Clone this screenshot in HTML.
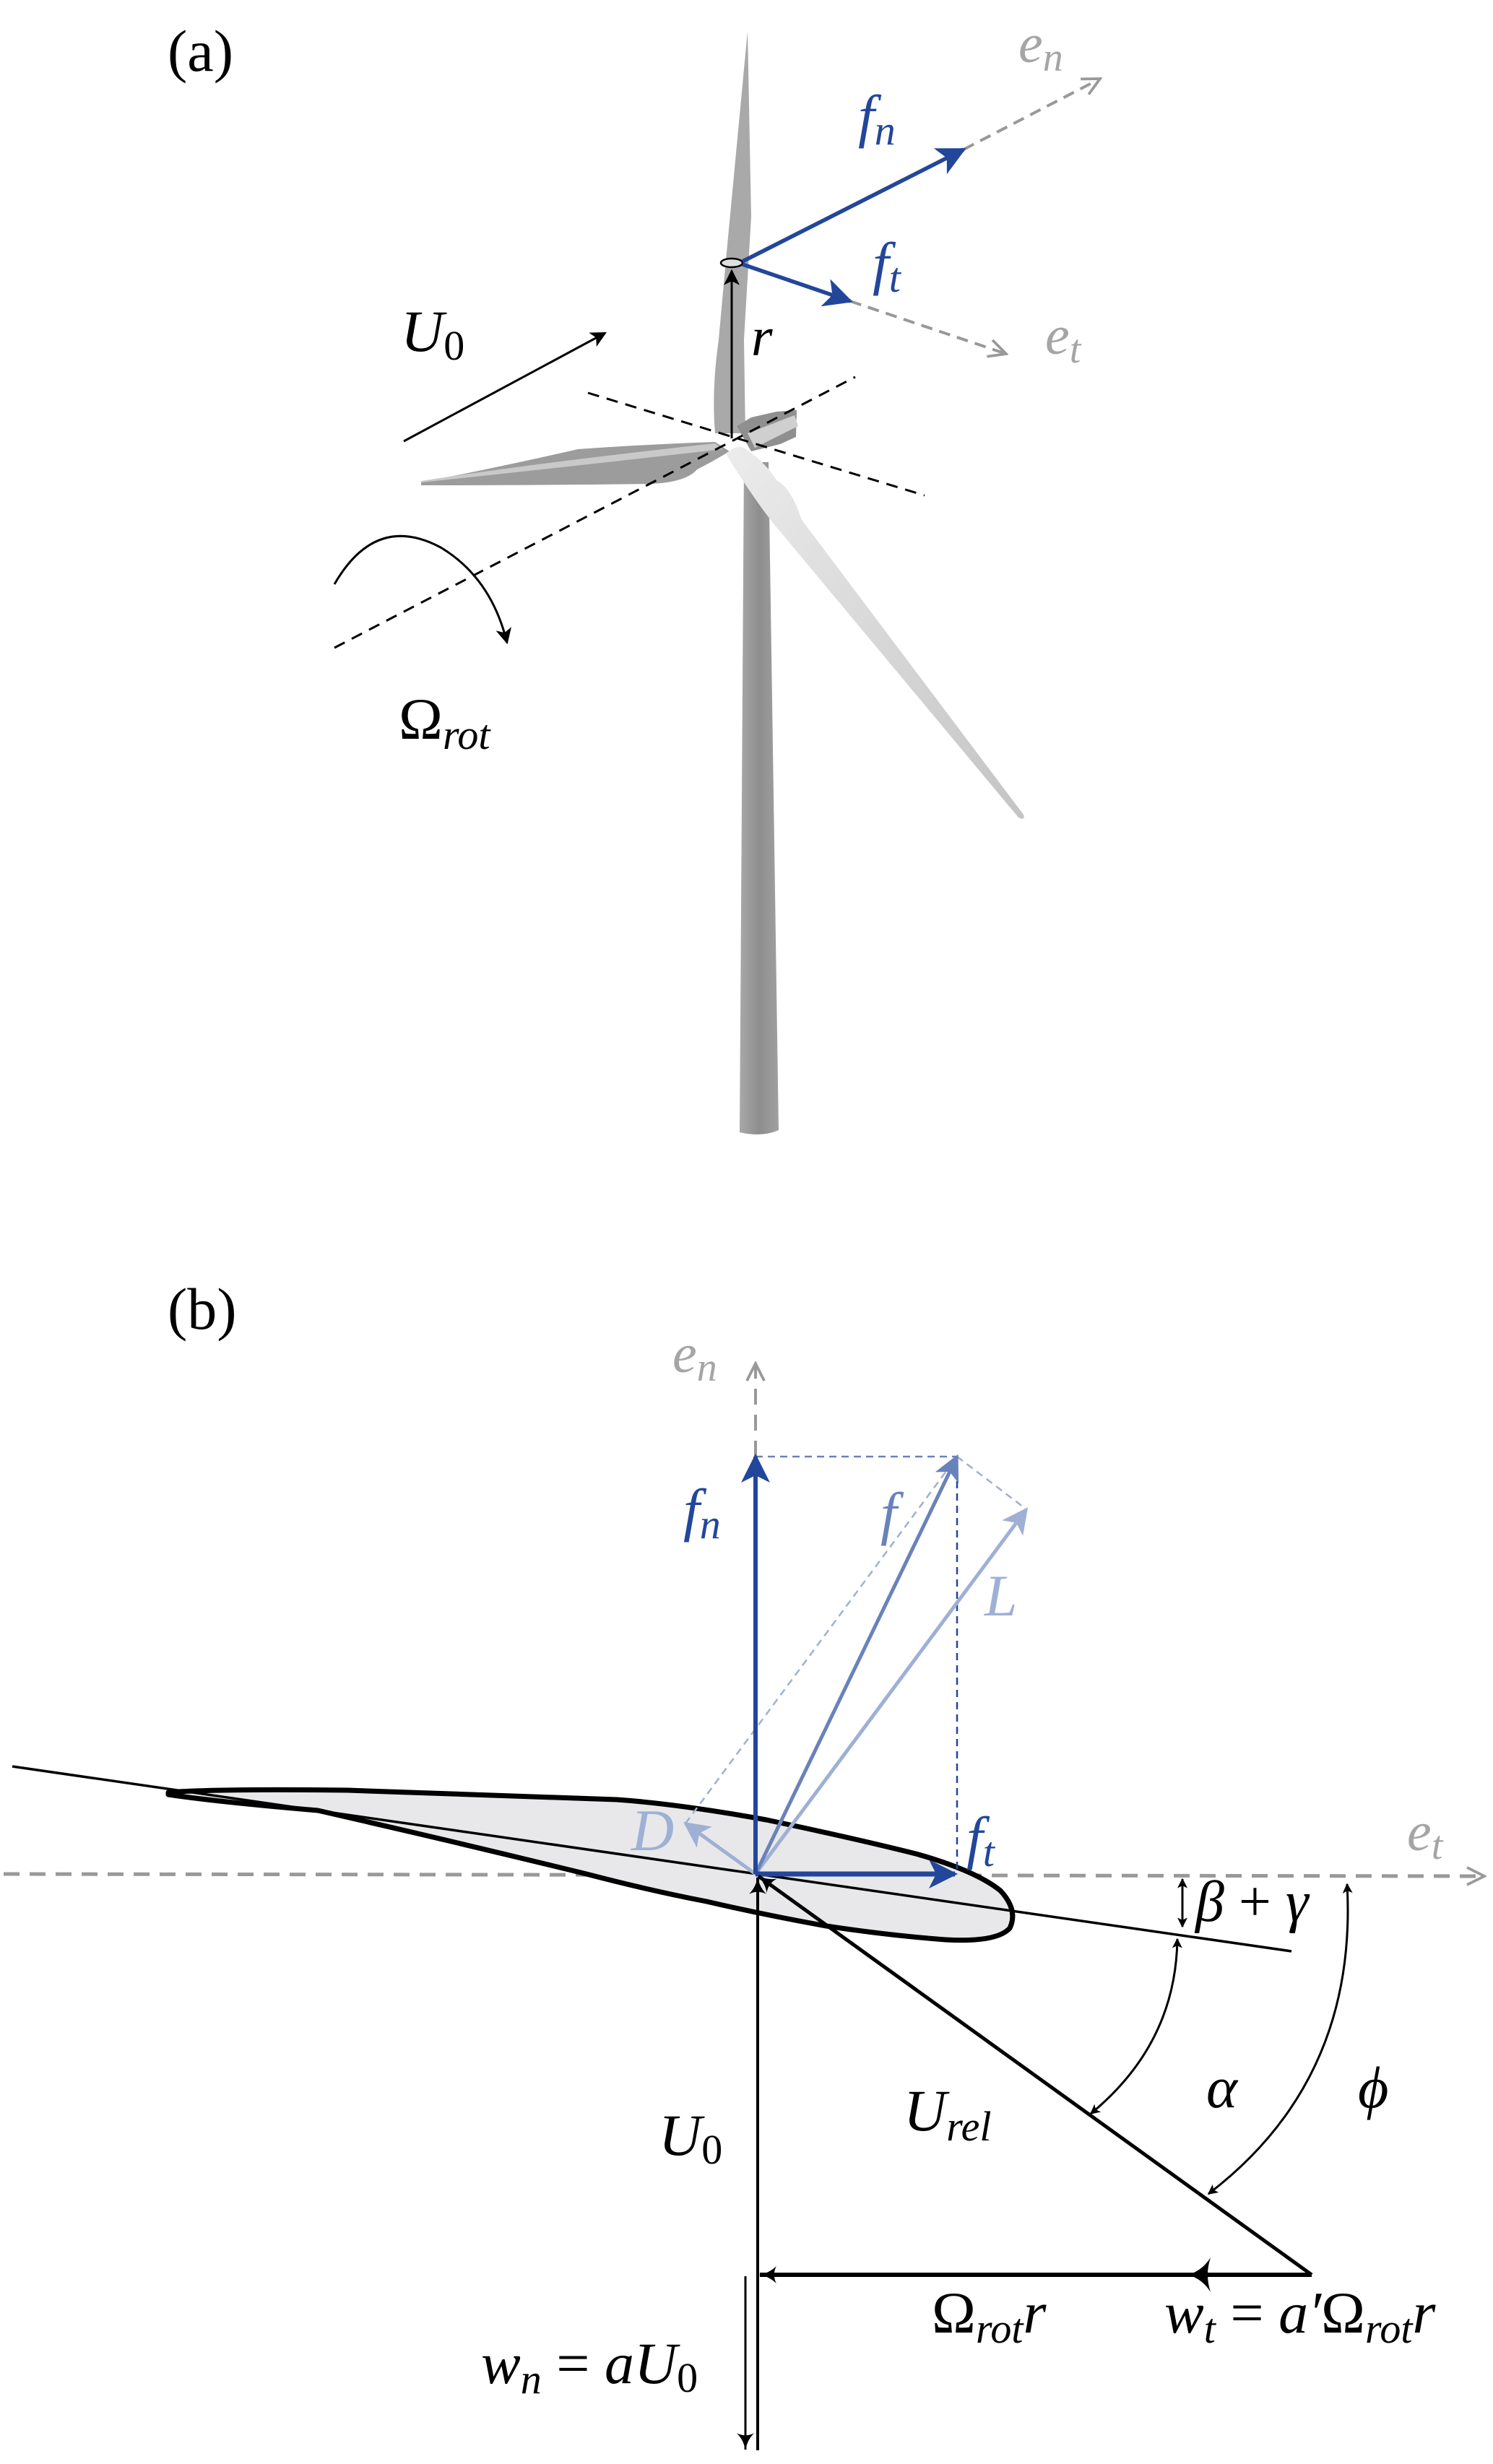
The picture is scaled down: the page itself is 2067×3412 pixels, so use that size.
<!DOCTYPE html>
<html><head><meta charset="utf-8"><style>
html,body{margin:0;padding:0;background:#fff}
svg{display:block}
text{font-family:"Liberation Serif",serif;font-style:italic}
</style></head><body>
<svg width="2067" height="3412" viewBox="0 0 2067 3412" xmlns="http://www.w3.org/2000/svg">
<defs>
<linearGradient id="tw" x1="0" x2="1"><stop offset="0" stop-color="#a8a8a8"/><stop offset="0.5" stop-color="#8e8e8e"/><stop offset="1" stop-color="#a0a0a0"/></linearGradient>
<linearGradient id="bl" x1="0" x2="1" y1="0" y2="1"><stop offset="0" stop-color="#ececec"/><stop offset="1" stop-color="#c4c4c4"/></linearGradient>
<marker id="ab" viewBox="0 0 20 20" refX="18" refY="10" markerWidth="14" markerHeight="14" markerUnits="userSpaceOnUse" orient="auto-start-reverse"><path d="M0,0 L20,10 L0,20 L5,10 Z" fill="#000"/></marker>
<marker id="ab2" viewBox="0 0 20 20" refX="18" refY="10" markerWidth="22" markerHeight="22" markerUnits="userSpaceOnUse" orient="auto"><path d="M0,0 L20,10 L0,20 L5,10 Z" fill="#000"/></marker>
<marker id="ak" viewBox="0 0 20 20" refX="19" refY="10" markerWidth="24" markerHeight="24" markerUnits="userSpaceOnUse" orient="auto"><path d="M0,0 Q8,8 20,10 Q8,12 0,20 Q5,10 0,0 Z" fill="#000"/></marker>
<marker id="ablu" viewBox="0 0 20 20" refX="18" refY="10" markerWidth="40" markerHeight="40" markerUnits="userSpaceOnUse" orient="auto"><path d="M0,0 L20,10 L0,20 L5,10 Z" fill="#22479a"/></marker>
<marker id="af" viewBox="0 0 20 20" refX="18" refY="10" markerWidth="36" markerHeight="36" markerUnits="userSpaceOnUse" orient="auto"><path d="M0,0 L20,10 L0,20 L5,10 Z" fill="#6a82ba"/></marker>
<marker id="al" viewBox="0 0 20 20" refX="18" refY="10" markerWidth="36" markerHeight="36" markerUnits="userSpaceOnUse" orient="auto"><path d="M0,0 L20,10 L0,20 L5,10 Z" fill="#9eb0d4"/></marker>
<marker id="ag" viewBox="0 0 20 20" refX="18" refY="10" markerWidth="30" markerHeight="30" markerUnits="userSpaceOnUse" orient="auto"><path d="M2,2 L18,10 L2,18" fill="none" stroke="#999" stroke-width="2.5"/></marker>
</defs>

<!-- Panel (a) -->
<text x="232" y="98" font-size="82" style="font-style:normal">(a)</text>

<!-- tower -->
<path d="M1030,640 L1064,640 L1078,1565 Q1055,1575 1024,1568 Z" fill="url(#tw)"/>
<!-- upper blade -->
<path d="M1035,43 L1040,300 L1030,470 L1032,600 L990,600 Q985,540 995,470 L1005,360 Z" fill="#a9a9a9"/>
<!-- nacelle -->
<path d="M1020,590 L1040,578 L1075,570 L1103,568 L1102,605 L1080,615 L1040,625 Z" fill="#8f8f8f"/>
<path d="M1035,600 L1100,575 L1105,590 L1045,620 Z" fill="#cfcfcf"/>
<!-- left blade -->
<path d="M583,668 Q700,645 800,622 Q900,615 990,612 L1010,625 Q985,640 965,650 Q950,668 900,670 Q760,672 583,672 Z" fill="#9c9c9c"/>
<path d="M583,666 Q750,640 990,614 L1000,622 Q800,645 583,668 Z" fill="#c9c9c9"/>
<!-- lower right blade -->
<path d="M1005,628 Q1020,615 1030,620 Q1060,640 1075,665 Q1095,675 1110,720 L1417,1128 Q1420,1137 1410,1132 L1075,730 Q1050,700 1012,640 Z" fill="url(#bl)"/>

<!-- dashed axes -->
<line x1="814" y1="544" x2="1280" y2="686" stroke="#000" stroke-width="3" stroke-dasharray="16,11"/>
<line x1="463" y1="897" x2="1184" y2="522" stroke="#000" stroke-width="3" stroke-dasharray="16,11"/>

<!-- r arrow -->
<line x1="1013" y1="607" x2="1013" y2="375" stroke="#000" stroke-width="3" marker-end="url(#ab2)"/>
<ellipse cx="1013" cy="364" rx="15" ry="6" fill="#e0e0e0" stroke="#000" stroke-width="2.5"/>
<text x="1040" y="492" font-size="76">r</text>

<!-- fn / ft / en / et -->
<line x1="1334" y1="207" x2="1523" y2="109" stroke="#999" stroke-width="4" stroke-dasharray="16,10" marker-end="url(#ag)"/>
<line x1="1177" y1="417" x2="1393" y2="490" stroke="#999" stroke-width="4" stroke-dasharray="16,10" marker-end="url(#ag)"/>
<line x1="1028" y1="362" x2="1334" y2="207" stroke="#22479a" stroke-width="5.5" marker-end="url(#ablu)"/>
<line x1="1028" y1="366" x2="1177" y2="417" stroke="#22479a" stroke-width="5.5" marker-end="url(#ablu)"/>
<text x="1188" y="188" font-size="82" fill="#22479a">f<tspan font-size="58" dy="12">n</tspan></text>
<text x="1208" y="392" font-size="82" fill="#22479a">f<tspan font-size="58" dy="12">t</tspan></text>
<text x="1410" y="86" font-size="76" fill="#a5a5a5">e<tspan font-size="56" dy="12">n</tspan></text>
<text x="1447" y="490" font-size="76" fill="#a5a5a5">e<tspan font-size="56" dy="12">t</tspan></text>

<!-- U0 arrow -->
<line x1="559" y1="611" x2="838" y2="461" stroke="#000" stroke-width="3" marker-end="url(#ab2)"/>
<text x="555" y="486" font-size="82">U<tspan font-size="58" dy="12" style="font-style:normal">0</tspan></text>

<!-- rotation arrow -->
<path d="M463,809 Q520,710 610,758 Q680,800 702,890" fill="none" stroke="#000" stroke-width="3" marker-end="url(#ab2)"/>
<text x="552" y="1023" font-size="82" style="font-style:normal">Ω<tspan font-size="58" dy="14" style="font-style:italic">rot</tspan></text>

<!-- Panel (b) -->
<text x="232" y="1840" font-size="82" style="font-style:normal">(b)</text>

<!-- et axis -->
<line x1="5" y1="2595" x2="2055" y2="2598" stroke="#999" stroke-width="5" stroke-dasharray="22,14" marker-end="url(#ag)"/>
<text x="1948" y="2562" font-size="76" fill="#a5a5a5">e<tspan font-size="56" dy="12">t</tspan></text>

<!-- airfoil -->
<path d="M233,2482 Q300,2477 481,2479 L854,2492 Q940,2498 1061,2520 Q1180,2545 1268,2567 Q1350,2590 1385,2618 Q1410,2645 1398,2670 Q1380,2690 1309,2686 Q1230,2680 1144,2667 Q1060,2652 978,2633 Q900,2618 812,2595 Q620,2548 440,2507 Q300,2495 233,2485 Z" fill="#e8e8ea" stroke="#000" stroke-width="7" stroke-linejoin="round"/>
<!-- chord -->
<line x1="17" y1="2446" x2="1788" y2="2702" stroke="#000" stroke-width="3.5"/>

<!-- dashed construction -->
<line x1="1046" y1="2017" x2="1325" y2="2017" stroke="#6a82ba" stroke-width="2.5" stroke-dasharray="10,7"/>
<line x1="1325" y1="2017" x2="1325" y2="2595" stroke="#22479a" stroke-width="2.5" stroke-dasharray="10,7"/>
<line x1="1325" y1="2017" x2="1421" y2="2090" stroke="#9eb0d4" stroke-width="2.5" stroke-dasharray="10,7"/>
<line x1="949" y1="2525" x2="1325" y2="2017" stroke="#9eb0d4" stroke-width="2.5" stroke-dasharray="10,7"/>
<line x1="1046" y1="2017" x2="1046" y2="1888" stroke="#999" stroke-width="4" stroke-dasharray="22,14" marker-end="url(#ag)"/>

<!-- vectors -->
<line x1="1046" y1="2595" x2="1421" y2="2090" stroke="#9eb0d4" stroke-width="5" marker-end="url(#al)"/>
<line x1="1046" y1="2595" x2="1325" y2="2017" stroke="#6a82ba" stroke-width="5" marker-end="url(#af)"/>
<line x1="1046" y1="2595" x2="949" y2="2525" stroke="#9eb0d4" stroke-width="5" marker-end="url(#al)"/>
<line x1="1046" y1="2595" x2="1046" y2="2017" stroke="#22479a" stroke-width="6" marker-end="url(#ablu)"/>
<line x1="1046" y1="2595" x2="1322" y2="2595" stroke="#22479a" stroke-width="7" marker-end="url(#ablu)"/>

<text x="931" y="1900" font-size="76" fill="#a5a5a5">e<tspan font-size="56" dy="12">n</tspan></text>
<text x="946" y="2118" font-size="82" fill="#22479a">f<tspan font-size="58" dy="12">n</tspan></text>
<text x="1219" y="2123" font-size="82" fill="#6a82ba">f</text>
<text x="1363" y="2237" font-size="82" fill="#9eb0d4">L</text>
<text x="874" y="2562" font-size="82" fill="#9eb0d4">D</text>
<text x="1338" y="2572" font-size="82" fill="#22479a">f<tspan font-size="58" dy="12">t</tspan></text>

<!-- U0 vertical, Urel, Omega r -->
<line x1="1049" y1="3393" x2="1049" y2="2600" stroke="#000" stroke-width="4" marker-end="url(#ak)"/>
<line x1="1816" y1="3150" x2="1050" y2="2598" stroke="#000" stroke-width="5" marker-end="url(#ak)"/>
<line x1="1816" y1="3150" x2="1052" y2="3150" stroke="#000" stroke-width="6" marker-end="url(#ak)"/>
<path d="M1676,3126 Q1664,3145 1644,3150 Q1664,3155 1676,3174 Q1668,3150 1676,3126 Z" fill="#000"/>
<line x1="1032" y1="3152" x2="1032" y2="3392" stroke="#000" stroke-width="3" marker-end="url(#ak)"/>

<!-- angle arcs -->
<line x1="1637" y1="2602" x2="1637" y2="2668" stroke="#000" stroke-width="3" marker-start="url(#ab)" marker-end="url(#ab)"/>
<path d="M1630,2685 Q1628,2830 1510,2927" fill="none" stroke="#000" stroke-width="3" marker-start="url(#ab)" marker-end="url(#ab)"/>
<path d="M1865,2609 Q1880,2880 1673,3038" fill="none" stroke="#000" stroke-width="3" marker-start="url(#ab)" marker-end="url(#ab)"/>

<text x="1655" y="2660" font-size="80">β <tspan style="font-style:normal">+</tspan> γ</text>
<text x="1670" y="2918" font-size="82">α</text>
<text x="1880" y="2918" font-size="82">ϕ</text>
<text x="1251" y="2950" font-size="82">U<tspan font-size="58" dy="14">rel</tspan></text>
<text x="912" y="2984" font-size="82">U<tspan font-size="58" dy="12" style="font-style:normal">0</tspan></text>
<text x="1290" y="3230" font-size="82" style="font-style:normal">Ω<tspan font-size="58" dy="14" style="font-style:italic">rot</tspan><tspan dy="-14" style="font-style:italic">r</tspan></text>
<text x="1612" y="3230" font-size="82">w<tspan font-size="58" dy="14">t</tspan><tspan dy="-14" style="font-style:normal"> = </tspan>a′<tspan style="font-style:normal">Ω</tspan><tspan font-size="58" dy="14">rot</tspan><tspan dy="-14">r</tspan></text>
<text x="666" y="3300" font-size="82">w<tspan font-size="58" dy="14">n</tspan><tspan dy="-14" style="font-style:normal"> = </tspan>aU<tspan font-size="58" dy="12" style="font-style:normal">0</tspan></text>
</svg>
</body></html>
